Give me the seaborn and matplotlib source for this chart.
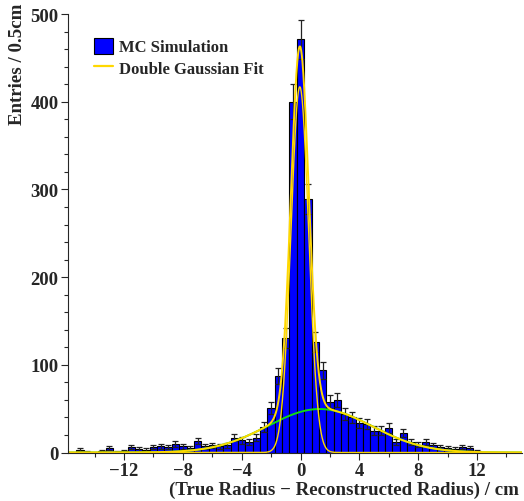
import numpy as np
import pandas as pd
import matplotlib
matplotlib.use("Agg")
import matplotlib.pyplot as plt
import seaborn as sns
from matplotlib.ticker import MultipleLocator
from matplotlib.patches import Patch
from matplotlib.lines import Line2D

# histogram: 0.5 cm bins, centres from -15.5 to 14.5
bin_width = 0.5
bin_centers = np.arange(-15.5, 14.51, bin_width)
counts = [0, 3, 1, 0, 2, 5, 1, 2, 6, 4,
          3, 6, 7, 6, 10, 7, 5, 13, 7, 8,
          7, 8, 17, 14, 12, 17, 29, 51, 87, 131,
          400, 471, 289, 126, 94, 58, 60, 44, 40, 34,
          32, 25, 25, 28, 12, 22, 12, 9, 12, 8,
          6, 5, 4, 6, 5, 2, 0, 0, 0, 0, 0]

# double gaussian fit parameters (amplitude, mean, sigma)
narrow = [417.0, -0.05, 0.60]
wide = [49.6, 1.3, 3.55]

sns.set_style("ticks")
plt.rcParams['font.family'] = ['Liberation Serif', 'DejaVu Serif']
plt.rcParams['font.weight'] = 'bold'

fig = plt.figure(figsize=(5.24, 5.02), dpi=100)
ax = fig.add_axes([0.13, 0.0966, 0.866, 0.8734])

df = pd.DataFrame({'r': bin_centers, 'n': np.array(counts, dtype=float)})
edges = list(np.append(bin_centers - bin_width / 2, bin_centers[-1] + bin_width / 2))
sns.histplot(data=df, x='r', weights='n', bins=edges, color='#0000ff',
             edgecolor='black', linewidth=0.8, alpha=1.0, ax=ax)

nz = df[df['n'] > 0]
ax.errorbar(nz['r'], nz['n'], yerr=np.sqrt(nz['n']), fmt='none',
            ecolor='#222222', elinewidth=0.9, capsize=2.2, capthick=0.9)

xs = np.linspace(-15.8, 15.05, 1500)
g_narrow = narrow[0] * np.exp(-0.5 * ((xs - narrow[1]) / narrow[2]) ** 2)
g_wide = wide[0] * np.exp(-0.5 * ((xs - wide[1]) / wide[2]) ** 2)
ax.plot(xs, g_wide, color='#11dd11', lw=1.4)
ax.plot(xs, g_narrow + g_wide, color='#ffd800', lw=1.4)
ax.plot(xs, g_narrow, color='#ffd800', lw=1.0)

ax.set_xlim(-15.8, 15.05)
ax.set_ylim(0, 500)
ax.xaxis.set_minor_locator(MultipleLocator(2))
ax.yaxis.set_major_locator(MultipleLocator(100))
ax.yaxis.set_minor_locator(MultipleLocator(20))
ax.set_xticks([-12, -8, -4, 0, 4, 8, 12])
ax.set_xticklabels(['\u221212', '\u22128', '\u22124', '0', '4', '8', '12'])
ax.tick_params(axis='both', which='major', length=5, width=0.8, labelsize=13.5, pad=2)
ax.tick_params(axis='both', which='minor', length=3, width=0.8)
for lab in ax.get_xticklabels() + ax.get_yticklabels():
    lab.set_fontweight('bold')
sns.despine(ax=ax)
ax.set_xlabel('')
ax.set_ylabel('')

fig.text(0.99, 0.024, '(True Radius \u2212 Reconstructed Radius) / cm',
         ha='right', va='center', fontsize=13.6, fontweight='bold')
fig.text(0.034, 0.992, 'Entries / 0.5cm', rotation=90, ha='center', va='top',
         fontsize=13.6, fontweight='bold')

handles = [Patch(facecolor='#0000ff', edgecolor='black', linewidth=0.8),
           Line2D([0], [0], color='#ffd800', lw=1.6)]
ax.legend(handles, ['MC Simulation', 'Double Gaussian Fit'], loc='upper left',
          bbox_to_anchor=(0.025, 0.98), frameon=False, handlelength=1.1,
          handleheight=1.1, handletextpad=0.35, labelspacing=0.25,
          prop={'weight': 'bold', 'size': 12.0})

fig.savefig('out.png', dpi=100)
